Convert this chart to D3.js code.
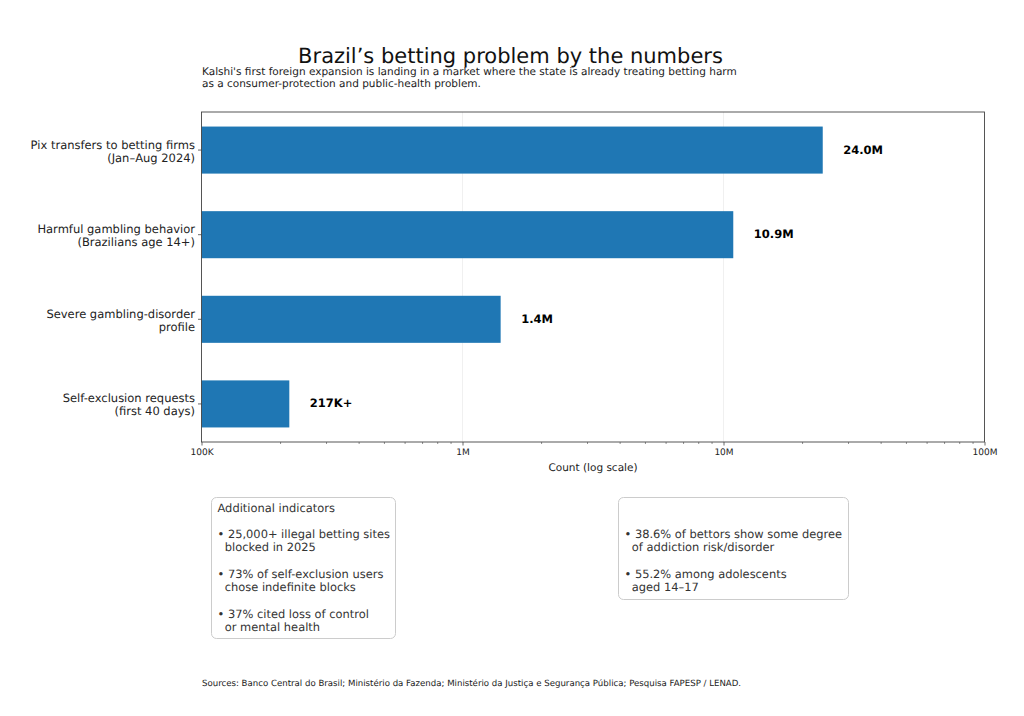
<!DOCTYPE html>
<html>
<head>
  <meta charset="UTF-8">
  <title>Brazil's betting problem by the numbers</title>
  <script src="https://d3js.org/d3.v7.min.js"></script>
  <style>
    body { margin: 0; background: white; }
    svg { display: block; font-family: "DejaVu Sans", sans-serif; text-rendering: geometricPrecision; }
    .tick text { font-family: "DejaVu Sans", sans-serif; }
  </style>
</head>
<body>
<svg></svg>
<script>
const categories = [
  ["Pix transfers to betting firms", "(Jan–Aug 2024)"],
  ["Harmful gambling behavior", "(Brazilians age 14+)"],
  ["Severe gambling-disorder", "profile"],
  ["Self-exclusion requests", "(first 40 days)"]
];
const values = [24000000, 10900000, 1400000, 217000];
const valueLabels = ["24.0M", "10.9M", "1.4M", "217K+"];
const tickValues = [100000, 1000000, 10000000, 100000000];
const tickLabels = ["100K", "1M", "10M", "100M"];
const minorTicks = [2, 3, 4, 5, 6, 7, 8, 9];

const titleText = "Brazil’s betting problem by the numbers";
const subtitleLines = [
  "Kalshi's first foreign expansion is landing in a market where the state is already treating betting harm",
  "as a consumer-protection and public-health problem."
];
const leftBoxLines = [
  "Additional indicators", "",
  "• 25,000+ illegal betting sites", "  blocked in 2025", "",
  "• 73% of self-exclusion users", "  chose indefinite blocks", "",
  "• 37% cited loss of control", "  or mental health"
];
const rightBoxLines = [
  "• 38.6% of bettors show some degree", "  of addiction risk/disorder", "",
  "• 55.2% among adolescents", "  aged 14–17"
];
const sourceText = "Sources: Banco Central do Brasil; Ministério da Fazenda; Ministério da Justiça e Segurança Pública; Pesquisa FAPESP / LENAD.";

let width = 1024, height = 716;
let plotLeft = 201.5, plotRight = 984.5, plotTop = 112, plotBottom = 442;
let svg = d3.select("svg").attr("width", width).attr("height", height);

let x = d3.scaleLog().domain([100000, 100000000]).range([plotLeft, plotRight]);
let y = d3.scaleBand().domain(d3.range(categories.length)).range([plotTop, plotBottom])
  .paddingInner(0.444).paddingOuter(0.172);

// Grid on the major ticks only
svg.append("g").selectAll("line")
  .data(tickValues.slice(1, -1))
  .join("line")
  .attr("x1", d => x(d)).attr("x2", d => x(d))
  .attr("y1", plotTop).attr("y2", plotBottom)
  .attr("stroke", "#ececec").attr("stroke-width", 0.8);

// Bars
svg.append("g").selectAll("rect")
  .data(values)
  .join("rect")
  .attr("x", x(100000))
  .attr("y", (d, i) => y(i))
  .attr("width", d => x(d) - x(100000))
  .attr("height", y.bandwidth())
  .attr("fill", "#1f77b4");

// Value labels
svg.append("g").selectAll("text")
  .data(values)
  .join("text")
  .attr("x", d => x(d) + 20.5)
  .attr("y", (d, i) => y(i) + y.bandwidth() / 2 + 3.5)
  .attr("font-size", 11.5)
  .attr("font-weight", "bold")
  .attr("fill", "#000")
  .text((d, i) => valueLabels[i]);

// Frame
svg.append("rect")
  .attr("x", plotLeft).attr("y", plotTop)
  .attr("width", plotRight - plotLeft).attr("height", plotBottom - plotTop)
  .attr("fill", "none").attr("stroke", "#444").attr("stroke-width", 0.9);

// X axis, major and minor ticks
let minorValues = [];
tickValues.slice(0, -1).forEach(t => minorTicks.forEach(m => minorValues.push(t * m)));

svg.append("g")
  .attr("transform", `translate(0, ${plotBottom})`)
  .call(d3.axisBottom(x).tickValues(minorValues).tickSize(2).tickFormat(""))
  .call(g => g.select(".domain").remove())
  .call(g => g.selectAll("line").attr("stroke", "#444").attr("stroke-width", 0.6));

let xAxis = svg.append("g")
  .attr("transform", `translate(0, ${plotBottom})`)
  .call(d3.axisBottom(x).tickValues(tickValues).tickSize(3.5).tickPadding(3)
    .tickFormat((d, i) => tickLabels[i]));
xAxis.select(".domain").remove();
xAxis.selectAll("line").attr("stroke", "#444").attr("stroke-width", 0.8);
xAxis.selectAll("text").attr("font-size", 9).attr("fill", "#222");

svg.append("text")
  .attr("x", 593)
  .attr("y", 471)
  .attr("text-anchor", "middle")
  .attr("font-size", 10.5)
  .attr("fill", "#222")
  .text("Count (log scale)");

// Y axis
let yTicks = svg.append("g").selectAll("g")
  .data(categories)
  .join("g")
  .attr("transform", (d, i) => `translate(${plotLeft}, ${y(i) + y.bandwidth() / 2})`);

yTicks.append("line")
  .attr("x1", -3.5).attr("x2", 0)
  .attr("stroke", "#444").attr("stroke-width", 0.8);

yTicks.selectAll("text")
  .data(d => d)
  .join("text")
  .attr("x", -6.5)
  .attr("y", (d, i) => i === 0 ? -1.5 : 11.5)
  .attr("text-anchor", "end")
  .attr("font-size", 11.5)
  .attr("fill", "#222")
  .text(d => d);

// Title and subtitle
svg.append("text")
  .attr("x", 510.5).attr("y", 63)
  .attr("text-anchor", "middle")
  .attr("font-size", 21)
  .attr("fill", "#111")
  .text(titleText);

svg.append("g").selectAll("text")
  .data(subtitleLines)
  .join("text")
  .attr("x", 202)
  .attr("y", (d, i) => 75 + i * 12.4)
  .attr("font-size", 10.5)
  .attr("fill", "#222")
  .text(d => d);

// Text boxes
function textBox(bx, by, bw, bh, lines, tx, ty, lineStep) {
  svg.append("rect")
    .attr("x", bx).attr("y", by)
    .attr("width", bw).attr("height", bh)
    .attr("rx", 5)
    .attr("fill", "white")
    .attr("stroke", "#cccccc");
  svg.append("g").selectAll("text")
    .data(lines)
    .join("text")
    .attr("x", tx)
    .attr("y", (d, i) => ty + i * lineStep)
    .attr("font-size", 11.45)
    .attr("fill", "#333")
    .style("white-space", "pre")
    .text(d => d);
}

textBox(211.5, 497.5, 184, 141, leftBoxLines, 217.5, 511.7, 13.25);
textBox(618.5, 497.5, 230, 102, rightBoxLines, 624.5, 538, 13.25);

svg.append("text")
  .attr("x", 202).attr("y", 685.5)
  .attr("font-size", 8.6)
  .attr("fill", "#222")
  .text(sourceText);
</script>
</body>
</html>
